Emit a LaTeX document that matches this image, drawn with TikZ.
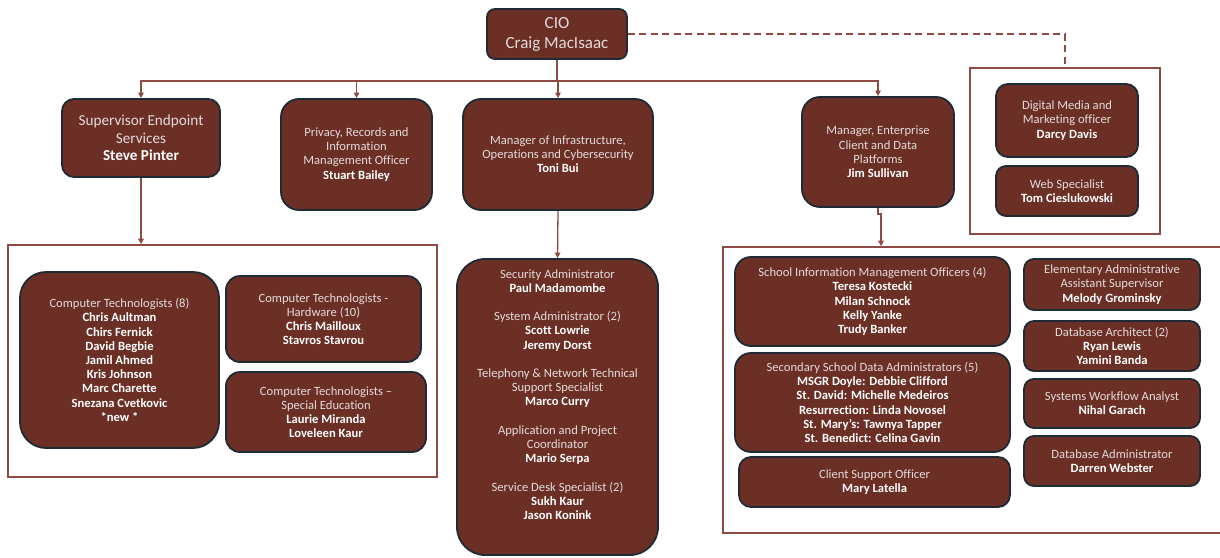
\documentclass[tikz,border=0pt]{standalone}
\usepackage{fontspec}
\setmainfont{Carlito}[Ligatures=NoCommon]
\usetikzlibrary{arrows.meta,calc}
\definecolor{boxfill}{HTML}{6B2F25}
\definecolor{boxline}{HTML}{1E2B35}
\definecolor{connc}{HTML}{8F4B42}
\definecolor{ttl}{HTML}{E4DBD8}
\newcommand\nm[1]{\textbf{\color{white}#1}}
\tikzset{
  orgbox/.style={draw=boxline, line width=1.8pt, fill=boxfill, rounded corners=#1,
    align=center, text=ttl, inner sep=0pt, font=\fontsize{12.6}{14.2}\selectfont},
  orgbox/.default=10pt,
  sz/.style 2 args={minimum width=#1, minimum height=#2},
  wire/.style={draw=connc, line width=1.3pt},
  arr/.style={wire, -{Triangle[length=5.5pt,width=5.5pt]}},
  grpframe/.style={draw=connc, line width=1.6pt, inner sep=0pt},
  txt/.style={align=center, text=ttl, inner sep=0pt, font=\fontsize{12.6}{14.2}\selectfont},
}
\begin{document}
\begin{tikzpicture}[x=1pt,y=-1pt]
\useasboundingbox (0,0) rectangle (1220,557);

% containers
\node[grpframe, sz={429pt}{232pt}] (lcont) at (222.5,361) {};
\node[grpframe, sz={190pt}{166pt}] (rcont) at (1065,151) {};
\node[grpframe, sz={507pt}{286pt}] (rbcont) at (976.5,390) {};

% top level
\node[orgbox=8pt, sz={140pt}{50pt}, font=\fontsize{17}{20}\selectfont] (cio) at (557,34) {CIO\\Craig MacIsaac};

\node[orgbox=12pt, sz={158pt}{78pt}, font=\fontsize{15.2}{17.5}\selectfont] (sup) at (141,138)
  {Supervisor Endpoint\\Services\\\nm{Steve Pinter}};
\node[orgbox=18pt, sz={151pt}{111pt}] (priv) at (356.5,154.5)
  {Privacy, Records and\\Information\\Management Officer\\\nm{Stuart Bailey}};
\node[orgbox=18pt, sz={190pt}{111pt}] (infra) at (558,154.5)
  {Manager of Infrastructure,\\Operations and Cybersecurity\\\nm{Toni Bui}};
\node[orgbox=18pt, sz={152pt}{110pt}] (ent) at (878,152)
  {Manager, Enterprise\\Client and Data\\Platforms\\\nm{Jim Sullivan}};

\node[orgbox=12pt, sz={142pt}{73pt}] (dm) at (1067,120.5)
  {Digital Media and\\Marketing officer\\\nm{Darcy Davis}};
\node[orgbox=10pt, sz={142pt}{50pt}] (web) at (1067,191)
  {Web Specialist\\\nm{Tom Cieslukowski}};

% left group
\node[orgbox=26pt, sz={199pt}{176pt}] (ct8) at (119.5,360)
  {Computer Technologists (8)\\\nm{Chris Aultman}\\\nm{Chirs Fernick}\\\nm{David Begbie}\\\nm{Jamil Ahmed}\\\nm{Kris Johnson}\\\nm{Marc Charette}\\\nm{Snezana Cvetkovic}\\\nm{*new *}};
\node[orgbox=14pt, sz={195pt}{86pt}] (cthw) at (323.5,319)
  {Computer Technologists -\\Hardware (10)\\\nm{Chris Mailloux}\\\nm{Stavros Stavrou}};
\node[orgbox=14pt, sz={200pt}{80pt}] (ctse) at (326,412)
  {Computer Technologists --\\Special Education\\\nm{Laurie Miranda}\\\nm{Loveleen Kaur}};

% infrastructure team
\node[orgbox=28pt, sz={201pt}{296pt}] (infrasub) at (557.5,407) {};
\node[txt] (infratxt) at ($(infrasub.center)+(0,-12.5)$)
  {Security Administrator\\\nm{Paul Madamombe}\\[14.2pt]
   System Administrator (2)\\\nm{Scott Lowrie}\\\nm{Jeremy Dorst}\\[14.2pt]
   Telephony \& Network Technical\\Support Specialist\\\nm{Marco Curry}\\[14.2pt]
   Application and Project\\Coordinator\\\nm{Mario Serpa}\\[14.2pt]
   Service Desk Specialist (2)\\\nm{Sukh Kaur}\\\nm{Jason Konink}};

% enterprise team
\node[orgbox=16pt, sz={275pt}{89pt}] (simo) at (872.5,301.5)
  {School Information Management Officers (4)\\\nm{Teresa Kostecki}\\\nm{Milan Schnock}\\\nm{Kelly Yanke}\\\nm{Trudy Banker}};
\node[orgbox=16pt, sz={275pt}{99pt}] (sec) at (872.5,402.5)
  {Secondary School Data Administrators (5)\\\nm{MSGR Doyle: Debbie Clifford}\\\nm{St. David: Michelle Medeiros}\\\nm{Resurrection: Linda Novosel}\\\nm{St. Mary’s: Tawnya Tapper}\\\nm{St. Benedict: Celina Gavin}};
\node[orgbox=12pt, sz={271pt}{50pt}] (cso) at (874.5,482)
  {Client Support Officer\\\nm{Mary Latella}};
\node[orgbox=10pt, sz={176pt}{51pt}] (elem) at (1112,284.5)
  {Elementary Administrative\\Assistant Supervisor\\\nm{Melody Grominsky}};
\node[orgbox=10pt, sz={176pt}{50pt}] (dbarch) at (1112,346)
  {Database Architect (2)\\\nm{Ryan Lewis}\\\nm{Yamini Banda}};
\node[orgbox=10pt, sz={176pt}{49pt}] (swa) at (1112,403.5)
  {Systems Workflow Analyst\\\nm{Nihal Garach}};
\node[orgbox=10pt, sz={176pt}{50pt}] (dbadm) at (1112,461)
  {Database Administrator\\\nm{Darren Webster}};

% connectors
\draw[arr] (cio.south) -- ++(0,21) -| (sup.north);
\draw[arr] (cio.south) -- ++(0,21) -| (priv.north);
\draw[arr] (cio.south) -- ++(0,21) -| (infra.north);
\draw[arr] (cio.south) -- ++(0,21) -| (ent.north);
\draw[wire, line width=1.6pt, dash pattern=on 7pt off 4.5pt] (cio.east) -| (rcont.north);
\draw[arr] (sup.south) -- (sup.south |- lcont.north);
\draw[arr] (infra.south) -- (infrasub.north);
\coordinate (entj) at ($(ent.south)+(3,6)$);
\draw[arr] (ent.south) -- ++(0,6) -- (entj) -- (entj |- rbcont.north);
\end{tikzpicture}
\end{document}
